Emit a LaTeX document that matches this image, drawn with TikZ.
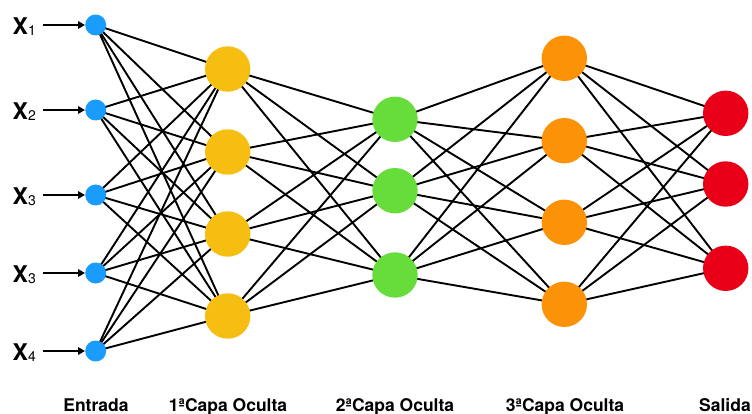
\documentclass[tikz,border=0pt]{standalone}
\usepackage{fontspec}
\setmainfont{TeX Gyre Heros}
\usetikzlibrary{arrows.meta,backgrounds}
\definecolor{inblue}{RGB}{26,156,252}
\definecolor{hyellow}{RGB}{246,190,16}
\definecolor{hgreen}{RGB}{102,221,58}
\definecolor{horange}{RGB}{252,146,8}
\definecolor{outred}{RGB}{233,0,24}
\tikzset{
  neuron/.style={circle, inner sep=0pt, minimum size=45.4pt},
  inneuron/.style={circle, inner sep=0pt, minimum size=21pt, fill=inblue},
  link/.style={line width=1.9pt, black},
  feed/.style={line width=1.9pt, black, -{Triangle[length=7pt,width=7.5pt]}, shorten <=7pt},
  xlab/.style={anchor=base west, inner sep=0pt, font=\fontsize{23}{23}\selectfont\bfseries},
  layerlab/.style={anchor=base, inner sep=0pt, font=\fontsize{17.5}{17.5}\selectfont\bfseries}
}
\newcommand{\sublab}[1]{\raisebox{-1pt}{\fontsize{14}{14}\selectfont\mdseries #1}}
\begin{document}
\begin{tikzpicture}[x=1pt,y=-1pt]
\useasboundingbox (0,0) rectangle (752,414);
% input layer
\foreach \n/\y in {1/25,2/110,3/195,4/273,5/351}
  \node[inneuron] (i\n) at (95.7,\y) {};
% first hidden layer
\foreach \n/\y in {1/69,2/152,3/234,4/316}
  \node[neuron, fill=hyellow] (a\n) at (227.7,\y) {};
% second hidden layer
\foreach \n/\y in {1/119.3,2/190.7,3/275}
  \node[neuron, fill=hgreen] (b\n) at (395,\y) {};
% third hidden layer
\foreach \n/\y in {1/58.3,2/140.7,3/222.3,4/304.3}
  \node[neuron, fill=horange] (c\n) at (564.3,\y) {};
% output layer
\foreach \n/\y in {1/113.3,2/184,3/268.3}
  \node[neuron, fill=outred] (o\n) at (725.7,\y) {};
% input labels
\node[xlab] (x1) at (12.5,34.3) {X\sublab{1}};
\node[xlab] (x2) at (12.5,119.3) {X\sublab{2}};
\node[xlab] (x3) at (12.5,204.3) {X\sublab{3}};
\node[xlab] (x4) at (12.5,282.3) {X\sublab{3}};
\node[xlab] (x5) at (12.5,360.3) {X\sublab{4}};
\foreach \n in {1,...,5}
  \draw[feed] (x\n.east |- i\n.west) -- (i\n.west);
% full connections between consecutive layers
\begin{pgfonlayer}{background}
  \foreach \i in {1,...,5}
    \foreach \j in {1,...,4}
      \draw[link] (i\i.center) -- (a\j.center);
  \foreach \i in {1,...,4}
    \foreach \j in {1,...,3}
      \draw[link] (a\i.center) -- (b\j.center);
  \foreach \i in {1,...,3}
    \foreach \j in {1,...,4}
      \draw[link] (b\i.center) -- (c\j.center);
  \foreach \i in {1,...,4}
    \foreach \j in {1,...,3}
      \draw[link] (c\i.center) -- (o\j.center);
\end{pgfonlayer}
% layer captions
\node[layerlab] (l0) at (96,411.5) {Entrada};
\node[layerlab] (l1) at (228,411.5) {1ªCapa Oculta};
\node[layerlab] (l2) at (395,411.5) {2ªCapa Oculta};
\node[layerlab] (l3) at (565,411.5) {3ªCapa Oculta};
\node[layerlab] (l4) at (725,411.5) {Salida};
\end{tikzpicture}
\end{document}
